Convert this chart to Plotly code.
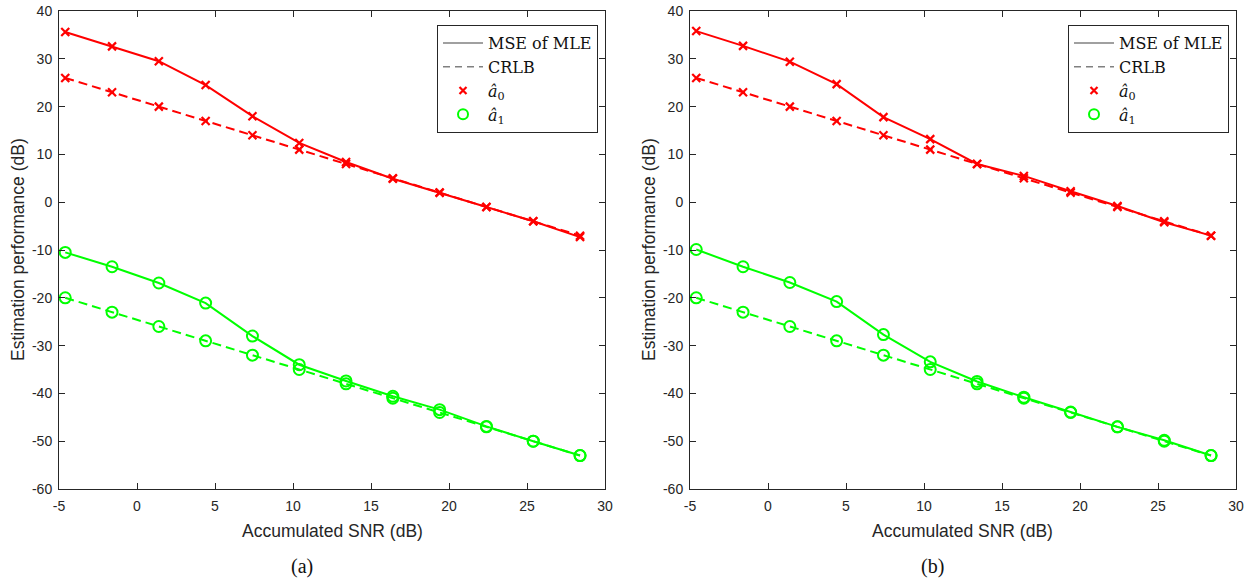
import plotly.graph_objects as go

# Data
snr = [-4.6, -1.6, 1.4, 4.4, 7.4, 10.4, 13.4, 16.4, 19.4, 22.4, 25.4, 28.4]

# Panel (a)
a_mse_a0 = [35.6, 32.6, 29.5, 24.5, 18.0, 12.4, 8.4, 4.9, 2.0, -1.0, -4.0, -7.3]
a_crlb_a0 = [26.0, 23.0, 20.0, 17.0, 14.0, 11.0, 8.0, 5.0, 2.0, -1.0, -4.0, -7.0]
a_mse_a1 = [-10.5, -13.5, -16.9, -21.1, -28.0, -34.0, -37.4, -40.6, -43.4, -46.9, -50.0, -53.0]
a_crlb_a1 = [-20.0, -23.0, -26.0, -29.0, -32.0, -35.0, -38.0, -41.0, -44.0, -47.0, -50.0, -53.0]

# Panel (b)
b_mse_a0 = [35.8, 32.7, 29.4, 24.7, 17.8, 13.2, 8.0, 5.5, 2.3, -0.8, -4.2, -7.0]
b_crlb_a0 = [26.0, 23.0, 20.0, 17.0, 14.0, 11.0, 8.0, 5.0, 2.0, -1.0, -4.0, -7.0]
b_mse_a1 = [-9.9, -13.5, -16.8, -20.8, -27.7, -33.4, -37.5, -40.8, -43.9, -47.0, -49.8, -53.0]
b_crlb_a1 = [-20.0, -23.0, -26.0, -29.0, -32.0, -35.0, -38.0, -41.0, -44.0, -47.0, -50.0, -53.0]

x_ticks = [-5, 0, 5, 10, 15, 20, 25, 30]
y_ticks = [40, 30, 20, 10, 0, -10, -20, -30, -40, -50, -60]
x_ticktext = [str(v) for v in x_ticks]
y_ticktext = [str(v) for v in y_ticks]

legend_names = ["MSE of MLE", "CRLB", "<i>â</i><sub>0</sub>", "<i>â</i><sub>1</sub>"]
panel_labels = ["(a)", "(b)"]
x_title = "Accumulated SNR (dB)"
y_title = "Estimation performance (dB)"

RED = "#FF0000"
GREEN = "#00FF00"
DASH = "9px,5px"
AXC = "#262626"
SANS = "Liberation Sans"

fig = go.Figure()

panels = [
    (a_mse_a0, a_crlb_a0, a_mse_a1, a_crlb_a1, "x", "y", "legend"),
    (b_mse_a0, b_crlb_a0, b_mse_a1, b_crlb_a1, "x2", "y2", "legend2"),
]

for mse0, crlb0, mse1, crlb1, xa, ya, lg in panels:
    x_mk = dict(symbol="x-thin", size=8, line=dict(color=RED, width=2.2), color=RED)
    o_mk = dict(symbol="circle-open", size=11, line=dict(color=GREEN, width=2), color=GREEN)
    fig.add_trace(go.Scatter(x=snr, y=crlb0, mode="lines+markers", xaxis=xa, yaxis=ya,
                             line=dict(color=RED, width=2, dash=DASH), marker=x_mk, showlegend=False))
    fig.add_trace(go.Scatter(x=snr, y=mse0, mode="lines+markers", xaxis=xa, yaxis=ya,
                             line=dict(color=RED, width=2), marker=x_mk, showlegend=False))
    fig.add_trace(go.Scatter(x=snr, y=crlb1, mode="lines+markers", xaxis=xa, yaxis=ya,
                             line=dict(color=GREEN, width=2, dash=DASH), marker=o_mk, showlegend=False))
    fig.add_trace(go.Scatter(x=snr, y=mse1, mode="lines+markers", xaxis=xa, yaxis=ya,
                             line=dict(color=GREEN, width=2), marker=o_mk, showlegend=False))
    # legend entries
    fig.add_trace(go.Scatter(x=[None], y=[None], mode="lines", xaxis=xa, yaxis=ya, legend=lg,
                             name=legend_names[0], line=dict(color="#808080", width=1.5)))
    fig.add_trace(go.Scatter(x=[None], y=[None], mode="lines", xaxis=xa, yaxis=ya, legend=lg,
                             name=legend_names[1], line=dict(color="#808080", width=1.5, dash="7px,5px")))
    fig.add_trace(go.Scatter(x=[None], y=[None], mode="markers", xaxis=xa, yaxis=ya, legend=lg,
                             name=legend_names[2],
                             marker=dict(symbol="x-thin", size=7, line=dict(color=RED, width=2.2), color=RED)))
    fig.add_trace(go.Scatter(x=[None], y=[None], mode="markers", xaxis=xa, yaxis=ya, legend=lg,
                             name=legend_names[3],
                             marker=dict(symbol="circle-open", size=10, line=dict(color=GREEN, width=2), color=GREEN)))

W, H = 1253, 581
dx1 = [59 / W, 605 / W]
dx2 = [690 / W, 1236 / W]
dy = [(H - 489) / H, (H - 11) / H]

axis_common = dict(
    showline=True, linecolor=AXC, linewidth=1, mirror="ticks",
    ticks="inside", ticklen=6, tickcolor=AXC, tickwidth=1,
    showgrid=False, zeroline=False,
    tickfont=dict(family=SANS, size=14, color=AXC),
    automargin=False,
)

legend_common = dict(
    xanchor="right", yanchor="top",
    bgcolor="white", bordercolor=AXC, borderwidth=1,
    font=dict(family="DejaVu Serif", size=16, color="#111"),
    tracegroupgap=0, itemwidth=40,
)

fig.update_layout(
    width=W, height=H,
    margin=dict(l=0, r=0, t=0, b=0),
    paper_bgcolor="white", plot_bgcolor="white",
    font=dict(family=SANS),
    xaxis=dict(domain=dx1, anchor="y", range=[-5, 30], tickvals=x_ticks, ticktext=x_ticktext,
               ticklabelstandoff=4, **axis_common),
    yaxis=dict(domain=dy, anchor="x", range=[-60, 40], tickvals=y_ticks, ticktext=y_ticktext,
               ticklabelstandoff=3, **axis_common),
    xaxis2=dict(domain=dx2, anchor="y2", range=[-5, 30], tickvals=x_ticks, ticktext=x_ticktext,
                ticklabelstandoff=4, **axis_common),
    yaxis2=dict(domain=dy, anchor="x2", range=[-60, 40], tickvals=y_ticks, ticktext=y_ticktext,
                ticklabelstandoff=3, **axis_common),
    legend=dict(x=598 / W, y=(H - 25) / H, **legend_common),
    legend2=dict(x=(598 + 631) / W, y=(H - 25) / H, **legend_common),
)

ann_font = dict(family=SANS, size=17.5, color=AXC)
cap_font = dict(family="Liberation Serif", size=20, color="#111")
for i, (d, lab) in enumerate(zip([dx1, dx2], panel_labels)):
    xc = (d[0] + d[1]) / 2
    fig.add_annotation(x=xc, y=(H - 531) / H, xref="paper", yref="paper", text=x_title,
                       showarrow=False, font=ann_font, xanchor="center", yanchor="middle")
    fig.add_annotation(x=(d[0] * W - 41) / W, y=(dy[0] + dy[1]) / 2, xref="paper", yref="paper",
                       text=y_title, textangle=-90, showarrow=False, font=ann_font,
                       xanchor="center", yanchor="middle")
    fig.add_annotation(x=(xc * W - 30) / W, y=(H - 566) / H, xref="paper", yref="paper", text=lab,
                       showarrow=False, font=cap_font, xanchor="center", yanchor="middle")

fig.write_html("out.html")
